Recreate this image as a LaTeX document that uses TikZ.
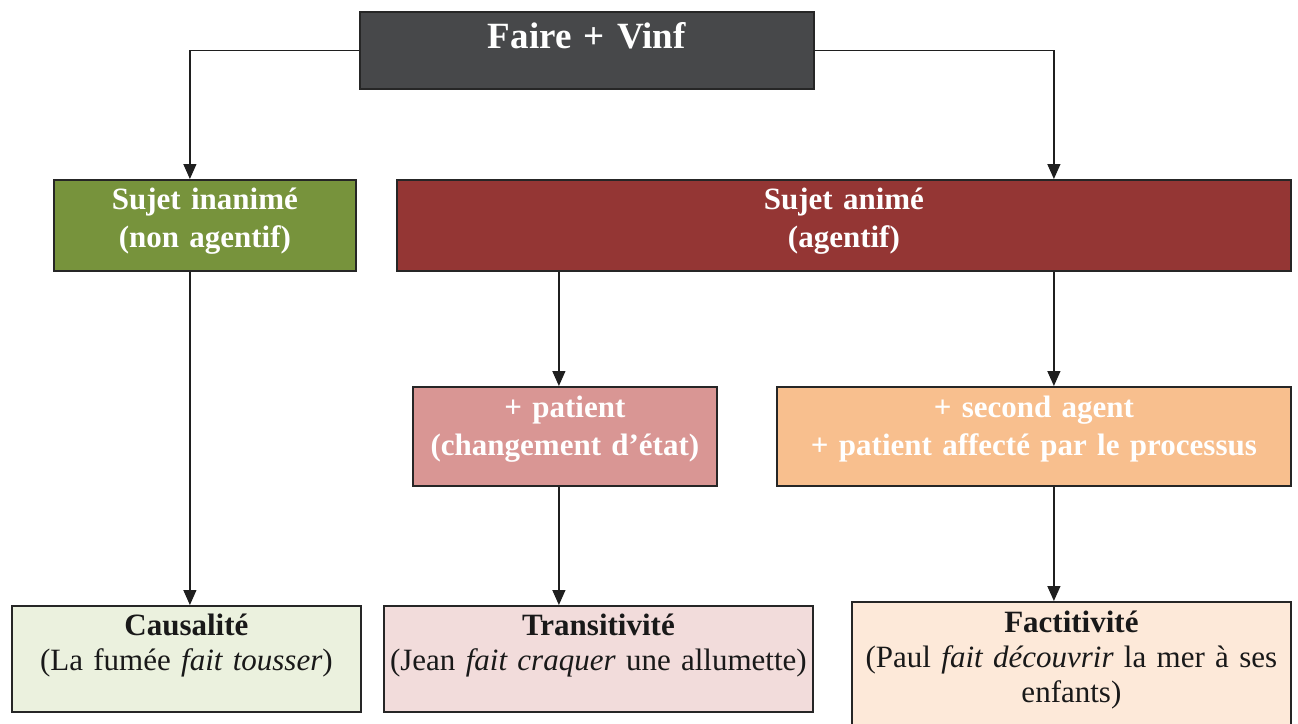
\documentclass[tikz,border=0pt]{standalone}
\usepackage{fontspec}
\setmainfont{Liberation Serif}
\usetikzlibrary{arrows.meta}
\definecolor{gristop}{HTML}{47484A}
\definecolor{vertfonce}{HTML}{77933C}
\definecolor{rougefonce}{HTML}{943634}
\definecolor{rosefonce}{HTML}{D99694}
\definecolor{orangefonce}{HTML}{F8BF8E}
\definecolor{vertclair}{HTML}{EBF1DE}
\definecolor{roseclair}{HTML}{F2DCDB}
\definecolor{orangeclair}{HTML}{FDE9D9}
\tikzset{
  boite/.style={draw=black!85, line width=1.8pt, inner sep=0pt, anchor=north west, align=center},
  titre/.style={boite, text=white, font=\fontsize{31}{38}\selectfont\bfseries},
  exemple/.style={boite, text=black!90, font=\fontsize{31}{35}\selectfont},
  fleche/.style={line width=1.3pt, draw=black!88, -{Triangle[width=13pt,length=15pt]}}
}
\begin{document}
\begin{tikzpicture}[x=1pt,y=-1pt]
\useasboundingbox (0,0) rectangle (1298,723);
\clip (0,0) rectangle (1298,723);
\node[boite, fill=gristop, text=white, font=\fontsize{37}{42}\selectfont\bfseries, text width=454pt, text height=37pt, text depth=40pt] (faire) at (359,11) {Faire + Vinf};
\node[titre, fill=vertfonce, text width=302pt, text height=30pt, text depth=61pt] (inanime) at (53,179) {Sujet inanimé\\(non agentif)};
\node[titre, fill=rougefonce, text width=894pt, text height=30pt, text depth=61pt] (anime) at (396,179) {Sujet animé\\(agentif)};
\node[titre, fill=rosefonce, text width=304pt, text height=31pt, text depth=68pt] (patient) at (412,386) {+ patient\\(changement d’état)};
\node[titre, fill=orangefonce, text width=514pt, text height=31pt, text depth=68pt] (second) at (776,386) {+ second agent\\+ patient affecté par le processus};
\node[exemple, fill=vertclair, text width=349pt, text height=30pt, text depth=76pt] (causalite) at (11,605) {\textbf{Causalité}\\(La fumée \textit{fait tousser})};
\node[exemple, fill=roseclair, text width=429pt, text height=30pt, text depth=76pt] (transitivite) at (383,605) {\textbf{Transitivité}\\(Jean \textit{fait craquer} une allumette)};
\node[exemple, fill=orangeclair, text width=439pt, text height=31pt, text depth=140pt] (factitivite) at (851,601) {\textbf{Factitivité}\\(Paul \textit{fait découvrir} la mer à ses\\enfants)};
\draw[fleche] (faire.west) -| ([xshift=-15pt]inanime.north);
\draw[fleche] (faire.east) -| ([xshift=20pt]second.north |- anime.north);
\draw[fleche] ([xshift=-15pt]inanime.south) -- ([xshift=-15pt]inanime.south |- causalite.north);
\draw[fleche] ([xshift=-6pt]patient.north |- anime.south) -- ([xshift=-6pt]patient.north);
\draw[fleche] ([xshift=20pt]second.north |- anime.south) -- ([xshift=20pt]second.north);
\draw[fleche] ([xshift=-6pt]patient.south) -- ([xshift=-6pt]patient.south |- transitivite.north);
\draw[fleche] ([xshift=20pt]second.south) -- ([xshift=20pt]second.south |- factitivite.north);
\end{tikzpicture}
\end{document}
